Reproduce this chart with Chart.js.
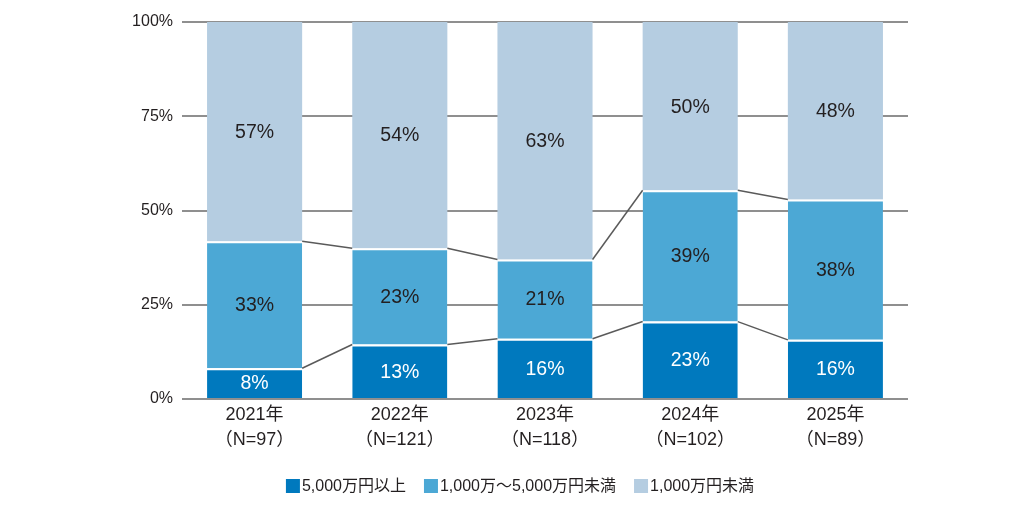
<!DOCTYPE html>
<html><head><meta charset="utf-8">
<script src="https://cdn.jsdelivr.net/npm/chart.js@4.4.1/dist/chart.umd.min.js"></script>
<style>html,body{margin:0;padding:0;background:#fff;}#wrap{width:1030px;height:519px;position:relative;}</style>
</head><body><div id="wrap"><canvas id="c" width="1030" height="519"></canvas></div>
<script>
const years = ['2021年', '2022年', '2023年', '2024年', '2025年'];
const sampleSizes = ['（N=97）', '（N=121）', '（N=118）', '（N=102）', '（N=89）'];
const seriesNames = ['5,000万円以上', '1,000万～5,000万円未満', '1,000万円未満'];
const over50m = [8, 13, 16, 23, 16];
const from10mTo50m = [33, 23, 21, 39, 38];
const under10m = [57, 54, 63, 50, 48];
const yTickValues = [0, 25, 50, 75, 100];

const FONT = "'Liberation Sans', Arial, 'Noto Sans CJK JP', sans-serif";
const colors = ['#0079be', '#4ca8d5', '#b5cde1'];
const rawSeries = [over50m, from10mTo50m, under10m];
const totals = years.map((_, i) => rawSeries.reduce((s, arr) => s + arr[i], 0));
const shares = rawSeries.map(arr => arr.map((v, i) => v / totals[i] * 100));

const connectors = {
  id: 'connectors',
  afterDatasetsDraw(chart) {
    const ctx = chart.ctx;
    ctx.save();
    ctx.strokeStyle = '#5a5a5a';
    ctx.lineWidth = 1.5;
    [0, 1].forEach(d => {
      const els = chart.getDatasetMeta(d).data;
      for (let i = 0; i < els.length - 1; i++) {
        const a = els[i], b = els[i + 1];
        ctx.beginPath();
        ctx.moveTo(a.x + a.width / 2, a.y);
        ctx.lineTo(b.x - b.width / 2, b.y);
        ctx.stroke();
      }
    });
    ctx.restore();
  }
};

const valueLabels = {
  id: 'valueLabels',
  afterDatasetsDraw(chart) {
    const ctx = chart.ctx;
    ctx.save();
    ctx.font = '19.5px ' + FONT;
    ctx.textAlign = 'center';
    ctx.textBaseline = 'middle';
    chart.data.datasets.forEach((ds, d) => {
      const els = chart.getDatasetMeta(d).data;
      els.forEach((el, i) => {
        const c = el.getCenterPoint();
        ctx.fillStyle = d === 0 ? '#ffffff' : '#231f20';
        ctx.fillText(rawSeries[d][i] + '%', c.x, c.y + 1);
      });
    });
    ctx.restore();
  }
};

const customLegend = {
  id: 'customLegend',
  afterDraw(chart) {
    const ctx = chart.ctx;
    ctx.save();
    ctx.font = '16px ' + FONT;
    ctx.textBaseline = 'middle';
    const box = 14, gapText = 2, gapItem = 18, cy = 486;
    const items = chart.data.datasets.map(ds => ({ label: ds.label, color: ds.backgroundColor, w: box + gapText + ctx.measureText(ds.label).width }));
    const total = items.reduce((s, it) => s + it.w, 0) + gapItem * (items.length - 1);
    let x = 520 - total / 2;
    items.forEach(it => {
      ctx.fillStyle = it.color;
      ctx.fillRect(x, cy - box / 2, box, box);
      ctx.fillStyle = '#231f20';
      ctx.textAlign = 'left';
      ctx.fillText(it.label, x + box + gapText, cy + 1);
      x += it.w + gapItem;
    });
    ctx.restore();
  }
};

new Chart(document.getElementById('c'), {
  type: 'bar',
  data: {
    labels: years.map((y, i) => [y, sampleSizes[i]]),
    datasets: shares.map((arr, d) => ({
      label: seriesNames[d],
      data: arr,
      backgroundColor: colors[d],
      borderColor: '#ffffff',
      borderWidth: d < 2 ? { top: 2, left: 0, right: 0, bottom: 0 } : 0,
      borderSkipped: false,
      categoryPercentage: 1,
      barPercentage: 0.655
    }))
  },
  options: {
    responsive: false,
    devicePixelRatio: 1,
    animation: false,
    layout: { padding: { left: 0, right: 122, top: 22, bottom: 40 } },
    plugins: { legend: { display: false }, tooltip: { enabled: false } },
    scales: {
      x: {
        stacked: true,
        grid: { display: false },
        border: { display: false },
        ticks: { color: '#231f20', font: { family: FONT, size: 18, lineHeight: 1.36 }, padding: -4, maxRotation: 0, autoSkip: false },
        afterFit(scale) { scale.height = 80; }
      },
      y: {
        stacked: true,
        min: 0, max: 100,
        afterBuildTicks(scale) { scale.ticks = yTickValues.map(v => ({ value: v })); },
        grid: { color: '#8f8f8f', lineWidth: 2, drawTicks: false },
        border: { display: false },
        ticks: { color: '#231f20', font: { family: FONT, size: 16 }, padding: 9, callback: v => v + '%' },
        afterFit(scale) { scale.width = 182; }
      }
    }
  },
  plugins: [connectors, valueLabels, customLegend]
});
</script></body></html>
